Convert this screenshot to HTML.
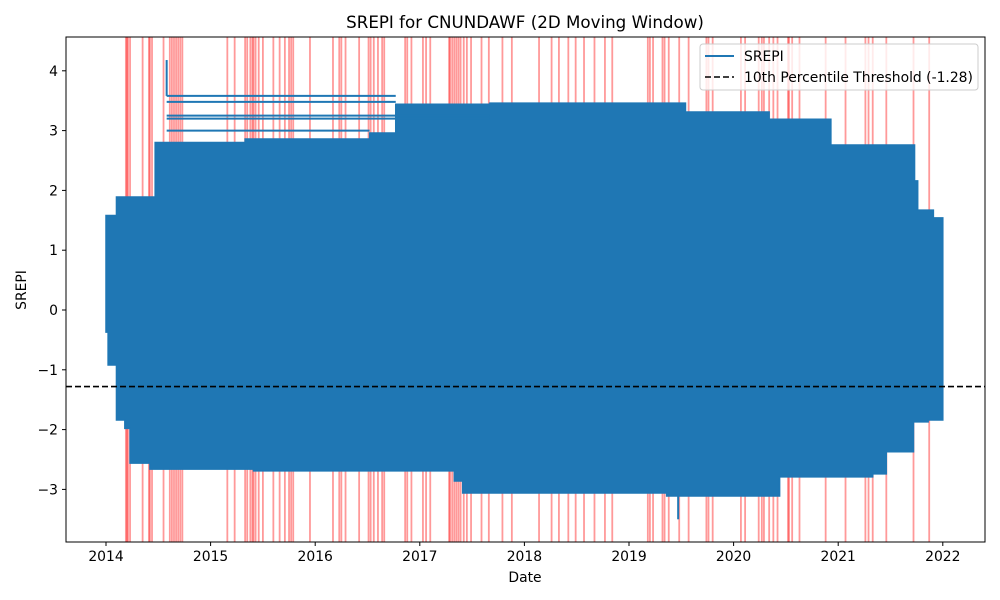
<!DOCTYPE html>
<html><head><meta charset="utf-8"><style>
body{margin:0;background:#fff;}
svg{display:block;font-family:"DejaVu Sans","Liberation Sans",sans-serif;}
</style></head><body>
<svg id="chart" width="1000" height="600" viewBox="0 0 1000 600" xmlns="http://www.w3.org/2000/svg">
<rect width="1000" height="600" fill="#fff"/>
<text x="525" y="28" text-anchor="middle" font-size="16.7">SREPI for CNUNDAWF (2D Moving Window)</text>
<text x="525" y="582" text-anchor="middle" font-size="13.9">Date</text>
<text x="26" y="290" text-anchor="middle" font-size="13.9" transform="rotate(-90 26 290)">SREPI</text>
<g id="redlines"></g>
<g id="series"></g>
<g id="axes"></g>
</svg>
<script>
const redDates=[2014.19,2014.20,2014.21,2014.23,2014.35,2014.41,2014.42,2014.44,2014.55,2014.61,2014.63,2014.65,2014.67,2014.69,2014.71,2014.73,2015.16,2015.23,2015.33,2015.35,2015.38,2015.40,2015.41,2015.43,2015.46,2015.50,2015.60,2015.66,2015.71,2015.75,2015.77,2015.79,2015.95,2016.17,2016.23,2016.25,2016.29,2016.42,2016.51,2016.53,2016.56,2016.60,2016.64,2016.66,2016.86,2016.88,2016.92,2017.03,2017.06,2017.10,2017.28,2017.29,2017.31,2017.33,2017.35,2017.37,2017.39,2017.42,2017.45,2017.49,2017.59,2017.66,2017.79,2017.88,2018.14,2018.26,2018.33,2018.42,2018.49,2018.57,2018.67,2018.77,2018.84,2019.18,2019.20,2019.23,2019.32,2019.34,2019.38,2019.48,2019.57,2019.74,2019.76,2019.80,2020.07,2020.11,2020.24,2020.27,2020.29,2020.34,2020.38,2020.42,2020.52,2020.53,2020.56,2020.63,2020.88,2021.07,2021.26,2021.29,2021.33,2021.46,2021.72,2021.87];
const topStart=[2014.00,2014.10,2014.47,2015.33,2016.52,2016.77,2017.67,2019.54,2020.34,2020.93,2021.73,2021.76,2021.91];
const topEnd=[2014.10,2014.47,2015.33,2016.52,2016.77,2017.67,2019.54,2020.34,2020.93,2021.73,2021.76,2021.91,2022.00];
const topVals=[1.58,1.89,2.80,2.86,2.96,3.44,3.46,3.31,3.19,2.76,2.16,1.67,1.54];
const botStart=[2014.00,2014.02,2014.10,2014.18,2014.23,2014.42,2015.41,2017.33,2017.41,2019.36,2020.44,2021.33,2021.46,2021.72,2021.86];
const botEnd=[2014.02,2014.10,2014.18,2014.23,2014.42,2015.41,2017.33,2017.41,2019.36,2020.44,2021.33,2021.46,2021.72,2021.86,2022.00];
const botVals=[-0.37,-0.92,-1.84,-1.98,-2.56,-2.66,-2.69,-2.86,-3.06,-3.11,-2.79,-2.74,-2.37,-1.87,-1.84];
const extraStart=[2014.58,2014.58,2014.58,2014.58,2014.58];
const extraEnd=[2016.77,2016.77,2017.67,2017.67,2016.52];
const extraVals=[3.58,3.48,3.25,3.20,3.00];
const spikeDates=[2014.58,2019.47];
const spikeFrom=[4.18,-3.10];
const spikeTo=[3.58,-3.50];
const threshold=-1.28;
const xTicks=[2014,2015,2016,2017,2018,2019,2020,2021,2022];
const yTicks=[-3,-2,-1,0,1,2,3,4];

const L=66,R=985,T=37,B=542;
const X=d=>106+(d-2014)*104.6;
const Y=v=>310-v*59.8;
const NS="http://www.w3.org/2000/svg";
function mk(tag,parent,attrs){const e=document.createElementNS(NS,tag);for(const k in attrs)e.setAttribute(k,attrs[k]);parent.appendChild(e);return e;}

const rg=document.getElementById('redlines');
redDates.forEach(d=>{
  const l=mk('line',rg,{x1:X(d),x2:X(d),y1:T,y2:B,stroke:'rgba(255,0,0,0.4)','stroke-width':1.8});
  
  
});

const sg=document.getElementById('series');
let p='';
topVals.forEach((v,i)=>{p+=(i?'L':'M')+X(topStart[i])+','+Y(v)+'L'+X(topEnd[i])+','+Y(v);});
for(let i=botVals.length-1;i>=0;i--){p+='L'+X(botEnd[i])+','+Y(botVals[i])+'L'+X(botStart[i])+','+Y(botVals[i]);}
p+='Z';
const area=mk('path',sg,{d:p,fill:'#1f77b4',stroke:'#1f77b4','stroke-width':1.5});


extraVals.forEach((v,i)=>{
  const l=mk('line',sg,{x1:X(extraStart[i]),x2:X(extraEnd[i]),y1:Y(v),y2:Y(v),stroke:'#1f77b4','stroke-width':2});
  
  
});
spikeDates.forEach((d,i)=>{
  const l=mk('line',sg,{x1:X(d),x2:X(d),y1:Y(spikeFrom[i]),y2:Y(spikeTo[i]),stroke:'#1f77b4','stroke-width':2});
  
  
});
const th=mk('line',sg,{x1:L,x2:R,y1:Y(threshold),y2:Y(threshold),stroke:'#000','stroke-width':1.6,'stroke-dasharray':'6,3'});



const ag=document.getElementById('axes');
const frame=mk('rect',ag,{x:L,y:T,width:R-L,height:B-T,fill:'none',stroke:'#000','stroke-width':1});


xTicks.forEach(t=>{
  mk('line',ag,{x1:X(t),x2:X(t),y1:B,y2:B+4,stroke:'#000'});
  const tx=mk('text',ag,{x:X(t),y:B+19,'text-anchor':'middle','font-size':13.9});
  tx.textContent=t;
  
  
});
yTicks.forEach(t=>{
  mk('line',ag,{x1:L-4,x2:L,y1:Y(t),y2:Y(t),stroke:'#000'});
  const tx=mk('text',ag,{x:L-8,y:Y(t)+5,'text-anchor':'end','font-size':13.9});
  tx.textContent=t<0?'\u2212'+(-t):t;
  
  
});

const lg=mk('g',ag,{});


mk('rect',lg,{x:700,y:44,width:278,height:46,rx:3,fill:'rgba(255,255,255,0.8)',stroke:'#ccc'});
mk('line',lg,{x1:705,x2:734,y1:56,y2:56,stroke:'#1f77b4','stroke-width':2});
mk('line',lg,{x1:705,x2:734,y1:77,y2:77,stroke:'#000','stroke-width':1.6,'stroke-dasharray':'6,3'});
const t1=mk('text',lg,{x:744,y:61,'font-size':13.9});t1.textContent='SREPI';


const t2=mk('text',lg,{x:744,y:82,'font-size':13.9});t2.textContent='10th Percentile Threshold (-1.28)';


</script>
</body></html>
